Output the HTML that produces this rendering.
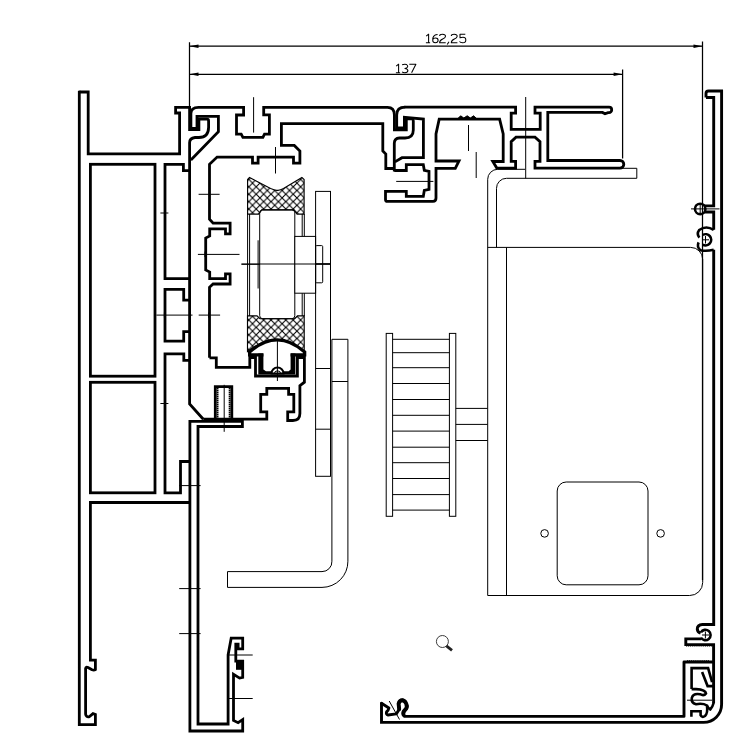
<!DOCTYPE html>
<html><head><meta charset="utf-8"><title>Section</title>
<style>
html,body{margin:0;padding:0;background:#fff;}
body{width:754px;height:747px;overflow:hidden;font-family:"Liberation Sans",sans-serif;}
svg{display:block}
.k{fill:none;stroke:#000;stroke-width:2.8;stroke-linejoin:miter;stroke-linecap:butt}
.kr{fill:none;stroke:#000;stroke-width:2.6;stroke-linejoin:round;stroke-linecap:round}
.c{fill:none;stroke:#000;stroke-width:2.9;stroke-linejoin:miter}
.t{fill:none;stroke:#000;stroke-width:1}
.m{fill:none;stroke:#000;stroke-width:1}
text{font-family:"Liberation Sans",sans-serif;font-size:11px;fill:#000}
</style></head><body>
<svg width="754" height="747" viewBox="0 0 754 747">
<defs>
<pattern id="h" width="7.4" height="7.4" patternUnits="userSpaceOnUse" x="248.8" y="194.2">
<path d="M-1,-1L8.4,8.4M8.4,-1L-1,8.4" stroke="#000" stroke-width="1.1" fill="none"/>
</pattern>
</defs>
<rect width="754" height="747" fill="#fff"/>

<!-- DIMENSIONS -->
<g id="dims" class="t" style="stroke-width:1.25">
<path d="M189.5,46.2H702.5M189.5,74.3H622.6"/>
<path d="M189.5,42.3V107M702.5,41.5V580M622.6,69.6V158.5"/>
</g>
<g fill="#000">
<path d="M189.5,46.2l9,-1.8v3.6zM702.5,46.2l-9,-1.8v3.6zM189.5,74.3l9,-1.8v3.6zM622.6,74.3l-9,-1.8v3.6z"/>
</g>
<g id="txt" fill="none" stroke="#000" stroke-width="1.05" stroke-linejoin="round">
<path transform="translate(425.9,34.2)" d="M0.3,1.9L2.7,0V8.5M0,8.5H4.2"/>
<path transform="translate(432.4,34.2)" d="M5.2,0.2Q1.5,0.2 0.4,4V6.6Q0.4,8.5 2.9,8.5Q5.7,8.5 5.7,6Q5.7,3.7 3,3.7Q0.9,3.7 0.4,5.4"/>
<path transform="translate(439.3,34.2)" d="M0.3,1.8Q0.3,0 3.2,0Q6.2,0 6.2,2.1Q6.2,3.8 3.4,4.8Q0.3,6.1 0.3,8.5H6.4"/>
<path transform="translate(447.2,34.2)" d="M1.8,7.5L0,10.3"/>
<path transform="translate(451,34.2)" d="M0.3,1.8Q0.3,0 3.2,0Q6.2,0 6.2,2.1Q6.2,3.8 3.4,4.8Q0.3,6.1 0.3,8.5H6.4"/>
<path transform="translate(459.3,34.2)" d="M6,0H0.7V3.5Q2,3.1 3.7,3.1Q6.5,3.1 6.5,5.8Q6.5,8.5 3.4,8.5Q0.8,8.5 0.2,7.2"/>
<path transform="translate(395.9,64.2)" d="M0.3,1.9L2.7,0V8.5M0,8.5H4.2"/>
<path transform="translate(402.1,64.2)" d="M0,0.6Q2.5,-0.3 4.5,0.4Q5.8,1.2 5.6,2.4Q5.2,3.9 2.8,4.2Q5.7,4.6 5.8,6.4Q5.7,8.5 2.8,8.5Q0.8,8.5 0,7.7"/>
<path transform="translate(409.3,64.2)" d="M0,0H6.6L2.3,8.5"/>
</g>

<!-- LEFT FRAME -->
<g id="frame" class="k">
<path d="M79.3,92H88.2V153.8H179.6V113H175.6V107.4H189.6V129.5H198.9V119.1H207Q208.6,119.1 208.6,121V127.3Q208.6,137.5 198.9,137.5H195Q189.6,138 189.6,142.8V404L203.3,419.2"/>
<path d="M79.3,90.7V724.6H95.4V714.5L93,713.6L89.5,716.6Q86,717.5 85.6,714V668.5Q86,666.5 88,667.6L92,669.8Q94,670.6 95.4,669.6V660.2H90.4V502.5H189.6"/>
<rect x="90.4" y="164.3" width="64.6" height="211.9"/>
<rect x="90.4" y="382.3" width="64.6" height="110.5"/>
<path d="M189.6,170.7H183.4V164.3H165V278.7H189.6"/>
<path d="M189.6,300.1H183.7V289.4H165V341.1H183.7V331.7H189.6"/>
<path d="M189.6,360.3H183.8V353.8H165V492.8H180.5V461.5H189.6"/>
</g>

<!-- TOP PROFILE -->
<g id="top" class="k">
<path d="M190.9,160L218.4,131.6V116.3H197V128.4H190.9V113.5Q190.9,107.4 198.5,107.4H243.6V115H236.5V134.2H241.2L242.9,137.4H262.9L264.5,134.2H269.4V114.9H263.7V107.3H387.5Q394.4,107.3 394.4,115V129.8H406.3V118.8H411Q413.3,118.5 413.3,121V129.9Q413.3,137.8 405,138H399.5Q394.3,138.4 394.3,143.2V171.5"/>
<path d="M209.5,357.8V287.3L213.1,284H230.1V273.9H225.5V278.6H209.7V272L205.7,270V238L209.7,236V228.8H225.5V233.8H230.1V223.1H213.1L209.5,219.1V164.3L217.1,157.1H252.5V163.1H258.1V157.1H293.5V163.1H299.9V151L294.3,145.4H281.4V123.7H382.8V151L385.8,154V168.5H394.3"/>
</g>

<!-- RIGHT OF TOP -->
<g id="topr" class="k">
<path d="M405.2,107.2Q396.7,107.2 396.7,115V128H404.4V117.3L423.4,119.1V157.7H402L394.9,161.9"/>
<path d="M394.3,170.5H406.3V164.7H423.3L424.3,170.3L429,171.3V189.4L424.3,190.4L423.3,196.4H406.3V191.4H385.5V199.4Q385.5,201.4 387.5,201.4H433Q436,201.4 436,198V168.3H455.3L459,161H436V134L439.2,119.2H499.6L503.2,134V161.5H492.8L496.8,168.1H515.6V161.3H511.2V141.6L516,137.2H535L540,141.6V161.3H535V168.1H620A3.8,3.8 0 0 0 620,160.5H547.8V112.4H602.5L605,113.7L608,112.6H609A2.7,2.7 0 0 0 609,107.2H535V113.1H540.2V129.3H511.2V113.1H515.6V107.2H404.5"/>
<path d="M458,118.4L460.6,115.8L463.8,118L467.2,115.8L470.4,118L473.6,115.8L476.4,118.4Z" fill="#000" stroke-width="1"/>
</g>

<!-- HOUSING BOTTOM / RAIL -->
<g id="rail" class="k">
<path d="M209.5,357.8H216.3V367.4H249.8V357.5H255.5V376H297.4V357.5H304.4V382.2L299.9,385.7V413.5Q299.9,420.5 292.9,420.5H287.7V411.8H293.8V394.4H288.6V388.3H266.8V394.4H260.7V411.8H266.8V419.2H203.3"/>
<path d="M263.4,354.9H249.6V352Q277.3,327.6 304.7,352V354.9H290.6" stroke-width="3.2"/>
<path d="M258.3,353.6V374.5H295.4V353.6H290.6V369.4L288.6,371.2H266L263.4,369.4V353.6Z" fill="#000" stroke="none"/>
<path d="M215.3,419V386.6H231.8V419"/>
</g>
<path d="M217.6,388V419M229.6,388V419" fill="none" stroke="#000" stroke-width="1.8" stroke-dasharray="1.5,0.5"/>
<path d="M271.5,373.5A6,6 0 0 1 283.5,373.5Z" fill="#fff" stroke="#000" stroke-width="2"/><path class="t" d="M274.3,374A3.2,3.2 0 0 1 280.7,374"/>

<!-- LOWER PANEL -->
<g id="panel" class="k">
<path d="M189.9,421.3H242.4V426.5H198V724H228.1V655L231.2,638.1H242.7V648.8H238.1V644.2H235.8V661.2H242.7V677.3L239.6,678.1L233.5,674.2V720.4L238.1,722.7L242.7,719.6V731H189.9Z"/>
</g>

<rect x="236" y="661.2" width="6.7" height="8.6" fill="#000"/>
<!-- WHEEL -->
<g id="wheel">
<path d="M247.6,214.1V179.5L249.5,177.4L270.6,188.6Q275,190.6 277.3,190.3Q280,190.6 283.5,188.6L301.9,177.4L304.1,179.5V214.1H297.1L293.9,209.9H261.8L258.6,214.1Z" fill="url(#h)" stroke="#000" stroke-width="1.15"/>
<path d="M247.5,315.8H257L260,318.7H294.6L297.5,315.8H304.2V351.5Q277.3,327.6 247.5,351.5Z" fill="url(#h)" stroke="#000" stroke-width="1.15"/>
<g class="t">
<path d="M247.6,214V316M249.6,214V316M302.2,214V316M304.3,214V316"/>
<rect x="259.7" y="209.9" width="35.1" height="108.8" rx="3"/>
<rect x="294.8" y="236.4" width="20.8" height="56.8" fill="#fff"/>
<path d="M241.4,264H330.3"/>
<path d="M315.6,264H330.3" style="stroke-width:1.6"/>
<rect x="315.6" y="245.6" width="7.1" height="37.2" rx="1"/>
<path d="M258.1,240.3V288.5"/>
</g>
</g>

<!-- PLATE + BRACKET -->
<g id="plate" class="t">
<rect x="315.6" y="191.4" width="14.9" height="284.9"/>
<path d="M315.6,368.5H330.5M315.6,429.2H330.5"/>
<path d="M331.9,339.3H347.9V561.2A26,26 0 0 1 322,587.4H227.5V571.6H322A9.8,9.8 0 0 0 331.9,561.2Z"/>
<path d="M331.9,381.5H347.9"/>
</g>

<!-- GEAR -->
<g id="gear" class="t">
<rect x="386.2" y="333.4" width="6.4" height="182.9"/>
<rect x="449.4" y="333.4" width="6.4" height="182.9"/>
<path d="M392.6,339.3H449.4M392.6,352.7H449.4M392.6,367.7H449.4M392.6,383.5H449.4M392.6,399.5H449.4M392.6,415.3H449.4M392.6,431.1H449.4M392.6,447.2H449.4M392.6,462.7H449.4M392.6,478.5H449.4M392.6,494.6H449.4M392.6,510.1H449.4"/>
<path d="M455.8,408.4H487.6M455.8,424.4H487.6M455.8,440.5H487.6"/>
</g>

<!-- MOTOR -->
<g id="motor" class="t">
<path d="M525,169.3H497.7A10,10 0 0 0 487.7,179.3V595.5H689.7A13,13 0 0 0 702.7,582.5V259.4A12,12 0 0 0 690.7,247.4H487.7"/>
<path d="M496.5,247.4V188.4A10,10 0 0 1 506.5,178.3H636.8V168.3H621"/>
<path d="M506.5,247.4V595.5"/>
<rect x="557.2" y="482" width="90.8" height="102.8" rx="9"/>
<circle cx="544.6" cy="533.4" r="3.8"/>
<circle cx="660.6" cy="533.4" r="3.8"/>
</g>

<!-- RIGHT COVER + BOTTOM -->
<g id="cover" class="c">
<path d="M706,97.5V93.5Q706,91 708.5,91H721.6V704.5A18,18 0 0 1 703.6,722.4H381.5V702.5"/>
<path d="M381.5,703.3L388.9,707.9Q388.5,710 386.6,711.9Q385.8,714.6 388,715L396.3,713.9L399.2,709.2L398.5,703.8Q399.5,700 402.5,700Q405.5,701 406.5,704Q408,707.5 405,710Q402,713 404.5,716.4H684V662H713.6" stroke-linejoin="round" stroke-linecap="round"/>
<path d="M706,97.5H713.7V205.9H704.5M704.5,212H713.7V229.8M713.7,249.8V624.5H702.5Q697,625 697.3,629.5Q697.6,632 700.6,633.2M701,638.9H685.8V644.6H713.6V703"/>
<path d="M399.2,709.2L398.6,703.8Q399.5,700.2 402.5,700.2Q405.3,701 406.3,704Q407.8,707.5 405,710Q402.4,712.6 403.6,715" stroke-width="3.9" stroke-linejoin="round" stroke-linecap="round"/>
<circle cx="700.2" cy="208.9" r="5.2" stroke-width="2.6"/>
<path d="M702.7,235A5.6,5.6 0 1 1 702.7,244.6" stroke-width="2.6"/>
<path d="M713.7,229.8Q706,225 699.2,230Q696.3,234 699.4,237.6M698.6,242.4Q696.5,247 700.5,250.2Q706,251.5 713.7,249.8" stroke-width="2.6"/>
<path d="M700.9,637.6A5.2,5.2 0 1 0 700.9,632.4" stroke-width="2.6"/>
<path d="M691.6,689.1V668.1H708.1L712.1,682.1M702.1,672.1L707.6,686.1H714" stroke-width="2.6"/>
<path d="M691.6,689.1H696Q705.5,689.6 706,693.4Q704,696.3 700,694.2Q693,693 691.8,698Q691,703 696,704.2Q703,703 707,705.5Q708.5,709 710.2,709.5Q712.6,707 713.8,702.5" stroke-width="2.6"/>
<path d="M691.4,716.7V711.2H700.6V715.2Q702,718 705,716Q708,713 707,706" stroke-width="2.6"/>
</g>
<path d="M686,645.6H712M687,661H709" fill="none" stroke="#000" stroke-width="1.6" stroke-dasharray="1.2,0.7"/>
<g class="m">
<path d="M691,208.9H719.5M700.2,203V215M705.5,236V243.5M702,239.8H709"/>
<path d="M702,635H709M705.4,631.5V638.5M687,700.2H712"/>
</g>

<!-- CENTER MARKS -->
<g id="marks" class="m">
<path d="M253.6,97.2V132.6M275.5,147V173.5M525.7,97V178.4M468.5,125V151M476.2,152V178"/>
<path d="M156.4,315.1H192.5M164.4,312.5V317.7M198.7,315.1H220.1M208.6,312.5V317.7"/>
<path d="M197.9,254.4H239.5M241.5,264.3H260M198.6,194.3H219.6M209.5,191.5V197.1M205,251.5V257"/>
<path d="M160.4,403.5H168.4M165,400.5V406.5M160.4,213H168.4M165,210V216"/>
<path d="M179.2,485.6H200.6M189.8,482.5V488.7M179.2,588.6H200.6M189.8,585.5V591.7M179.2,633.6H200.6"/>
<path d="M228.1,655H252.7M228.1,698.5H252.7"/>
<path d="M224.2,384.8V431.8M277.4,340V381M396.2,181.4H433.4"/>
<path d="M389.2,701L399.5,719.5"/>
</g>

<!-- MAGNIFIER -->
<g id="mag">
<circle cx="442.4" cy="641.5" r="6" fill="none" stroke="#333" stroke-width="0.95"/>
<path d="M446.4,645.9L452,650.4" stroke="#222" stroke-width="2.8" stroke-linecap="butt" fill="none"/>
</g>
</svg>
</body></html>
